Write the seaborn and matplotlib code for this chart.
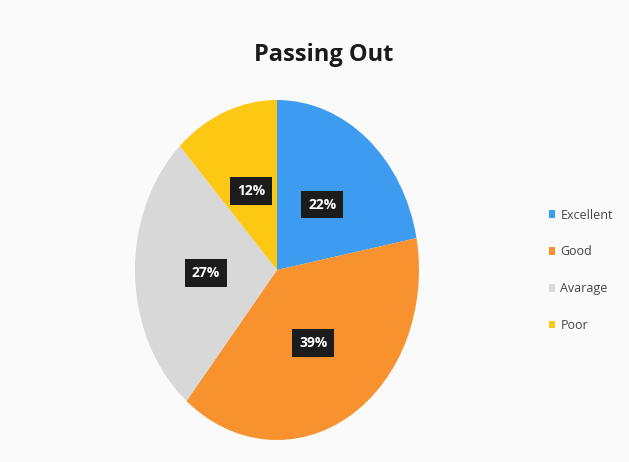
import matplotlib
matplotlib.use("Agg")
import matplotlib.pyplot as plt
import seaborn as sns

# donnees
categories = ["Excellent", "Good", "Avarage", "Poor"]
parts = [22, 39, 27, 12]
couleurs = ["#3d9cf0", "#f7922e", "#d8d8d8", "#fcc814"]

sns.set_theme(style="white")
plt.rcParams['font.family'] = ['Open Sans', 'DejaVu Sans']

fig = plt.figure(figsize=(6.29, 4.62), dpi=100)
fig.patch.set_facecolor("#fafafa")

# axe du camembert (ellipse : aspect libre)
ax = fig.add_axes([135 / 629, 22 / 462, 284 / 629, 340 / 462])
wedges, textes, autotextes = ax.pie(
    parts,
    colors=couleurs,
    startangle=90,
    counterclock=False,
    autopct="%1.0f%%",
    pctdistance=0.5,
    wedgeprops=dict(edgecolor="none", linewidth=0),
)
ax.set_aspect("auto")
ax.set_xlim(-1, 1)
ax.set_ylim(-1, 1)

# etiquettes noires
for t in autotextes:
    t.set_color("white")
    t.set_fontsize(10)
    t.set_fontweight("bold")
    t.set_bbox(dict(boxstyle="square,pad=0.5", facecolor="#1c1c1c", edgecolor="none"))

fig.text(0.515, 0.88, "Passing Out", ha="center", va="center",
         fontsize=17, fontweight="bold", color="#1a1a1a")

leg = fig.legend(wedges, categories, loc="center left",
                 bbox_to_anchor=(0.855, 0.415), frameon=False,
                 handlelength=0.5, handleheight=0.6, handletextpad=0.4,
                 labelspacing=1.9, fontsize=9)
for txt in leg.get_texts():
    txt.set_color("#444444")

plt.savefig("out.png", dpi=100, facecolor=fig.get_facecolor())
